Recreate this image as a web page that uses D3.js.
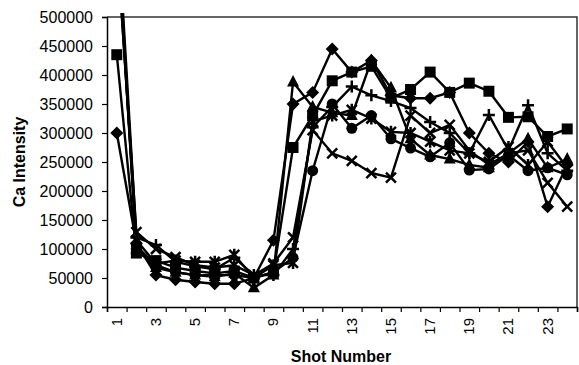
<!DOCTYPE html>
<html lang="en">
<head>
<meta charset="UTF-8">
<title>Ca Intensity</title>
<script src="https://cdnjs.cloudflare.com/ajax/libs/d3/7.8.5/d3.min.js"></script>
<style>
  body { margin: 0; background: #fff; }
  text { font-family: "Liberation Sans", Arial, sans-serif; fill: #000; }
</style>
</head>
<body>
<svg id="chart"></svg>
<script>
var shots = [1, 2, 3, 4, 5, 6, 7, 8, 9, 10, 11, 12, 13, 14, 15, 16, 17, 18, 19, 20, 21, 22, 23, 24]
var shotLabels = [1, 3, 5, 7, 9, 11, 13, 15, 17, 19, 21, 23]
var yTicks = [0, 50000, 100000, 150000, 200000, 250000, 300000, 350000, 400000, 450000, 500000]

var diamond = [300000, 110000, 55000, 47000, 43000, 40000, 40000, 50000, 115000, 350000, 370000, 445000, 405000, 425000, 365000, 360000, 360000, 370000, 300000, 265000, 250000, 285000, 173000, 245000]
var square = [435000, 93000, 80000, 68000, 62000, 58000, 62000, 50000, 60000, 275000, 330000, 390000, 405000, 415000, 360000, 375000, 405000, 370000, 386000, 372000, 327000, 328000, 294000, 307000]
var triangle = [660000, 100000, 68000, 60000, 55000, 52000, 58000, 33000, 55000, 388000, 345000, 335000, 330000, 425000, 378000, 290000, 262000, 255000, 245000, 240000, 265000, 290000, 240000, 255000]
var cross = [630000, 129000, 100000, 86000, 72000, 68000, 72000, 55000, 75000, 120000, 305000, 265000, 252000, 231000, 223000, 330000, 300000, 314000, 270000, 245000, 265000, 270000, 214000, 173000]
var star = [640000, 115000, 75000, 80000, 78000, 78000, 90000, 50000, 72000, 76000, 320000, 330000, 340000, 325000, 302000, 300000, 285000, 270000, 265000, 250000, 276000, 245000, 285000, 240000]
var circle = [670000, 105000, 72000, 60000, 55000, 55000, 55000, 50000, 60000, 85000, 235000, 350000, 308000, 330000, 290000, 274000, 259000, 283000, 236000, 238000, 262000, 235000, 240000, 228000]
var plus = [690000, 120000, 107000, 78000, 70000, 65000, 85000, 55000, 55000, 100000, 310000, 345000, 380000, 365000, 355000, 343000, 319000, 300000, 265000, 331000, 270000, 348000, 265000, 235000]

var W = 579, H = 365
var pL = 107, pR = 577, pT = 17, pB = 307

var svg = d3.select("#chart").attr("width", W).attr("height", H)

var x = d3.scaleBand().domain(shots).range([pL, pR])
var xEdge = d3.scaleLinear().domain([0, shots.length]).range([pL, pR])
var y = d3.scaleLinear().domain([0, 500000]).range([pB, pT])

// frame
svg.append("path")
  .attr("d", "M" + pL + "," + pT + "H" + pR + "V" + pB)
  .attr("fill", "none").attr("stroke", "#333").attr("stroke-width", 1.5)

// y axis
var yAxis = svg.append("g")
  .attr("transform", "translate(" + pL + ",0)")
  .call(d3.axisLeft(y).tickValues(yTicks).tickSize(5).tickPadding(9).tickFormat(d3.format("d")))
yAxis.select(".domain").attr("stroke", "#000").attr("stroke-width", 1.5)
yAxis.selectAll(".tick line").attr("stroke", "#000").attr("stroke-width", 1.2)
yAxis.selectAll("text").attr("font-size", 16).style("font-family", "'Liberation Sans', Arial, sans-serif")

// x axis: ticks on band edges, labels on odd shots
var xTicks = svg.append("g")
  .attr("transform", "translate(0," + pB + ")")
  .call(d3.axisBottom(xEdge).tickValues(d3.range(0, shots.length + 1)).tickSize(5).tickFormat(""))
xTicks.select(".domain").attr("stroke", "#000").attr("stroke-width", 1.5)
xTicks.selectAll(".tick line").attr("stroke", "#000").attr("stroke-width", 1.2)

svg.append("g").selectAll("text")
  .data(shotLabels).enter()
  .append("text")
  .attr("transform", function(d) {
    return "translate(" + (x(d) + x.bandwidth() / 2 + 5) + "," + (pB + 11) + ") rotate(-90)"
  })
  .attr("text-anchor", "end")
  .attr("font-size", 15)
  .text(function(d) { return d })

// titles
svg.append("text")
  .attr("x", 341).attr("y", 362)
  .attr("text-anchor", "middle")
  .attr("font-size", 16).attr("font-weight", "bold")
  .text("Shot Number")

svg.append("text")
  .attr("transform", "translate(25,162) rotate(-90)")
  .attr("text-anchor", "middle")
  .attr("font-size", 16).attr("font-weight", "bold")
  .text("Ca Intensity")

// series
svg.append("clipPath").attr("id", "plot")
  .append("rect").attr("x", pL - 10).attr("y", pT - 4)
  .attr("width", pR - pL + 10).attr("height", pB - pT + 4)

var series = [
  { name: "diamond", values: diamond },
  { name: "square", values: square },
  { name: "triangle", values: triangle },
  { name: "cross", values: cross },
  { name: "star", values: star },
  { name: "circle", values: circle },
  { name: "plus", values: plus }
]

var cx = function(i) { return x(shots[i]) + x.bandwidth() / 2 }

var line = d3.line()
  .x(function(d, i) { return cx(i) })
  .y(function(d) { return y(d) })

var plot = svg.append("g").attr("clip-path", "url(#plot)")

plot.selectAll(".line")
  .data(series).enter()
  .append("path")
  .attr("class", "line")
  .attr("d", function(s) { return line(s.values) })
  .attr("fill", "none")
  .attr("stroke", "#000")
  .attr("stroke-width", 2.4)

function markerPath(name) {
  if (name == "cross") return "M-5,-5L5,5M-5,5L5,-5"
  if (name == "star") return "M-5,-5L5,5M-5,5L5,-5M0,-6L0,6"
  if (name == "plus") return "M-6,0L6,0M0,-6L0,6"
  if (name == "diamond") return "M0,-6.5L6.5,0L0,6.5L-6.5,0Z"
  if (name == "triangle") return "M0,-7L6,4.5L-6,4.5Z"
  if (name == "square") return "M-5.5,-5.5H5.5V5.5H-5.5Z"
  return d3.symbol().type(d3.symbolCircle).size(95)()
}

series.forEach(function(s) {
  var outline = s.name == "cross" || s.name == "star" || s.name == "plus"
  var pts = s.values.map(function(v, i) { return { v: v, i: i } })
    .filter(function(p) { return p.v <= 500000 })
  plot.append("g").selectAll("path")
    .data(pts).enter()
    .append("path")
    .attr("transform", function(p) { return "translate(" + cx(p.i) + "," + y(p.v) + ")" })
    .attr("d", markerPath(s.name))
    .attr("fill", outline ? "none" : "#000")
    .attr("stroke", "#000")
    .attr("stroke-width", outline ? 2.5 : 0)
})
</script>
</body>
</html>
